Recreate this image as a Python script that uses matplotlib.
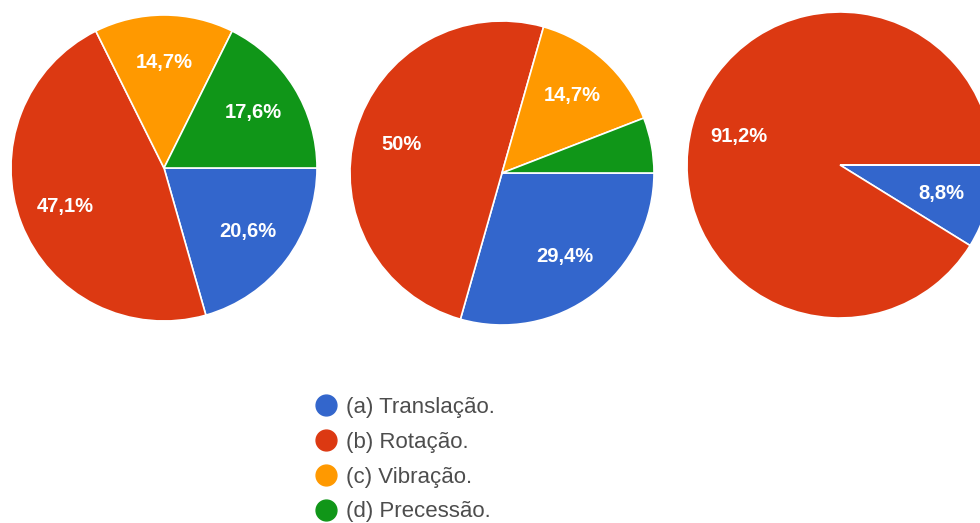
import numpy as np
import matplotlib.pyplot as plt
from matplotlib.lines import Line2D

plt.rcParams['font.family'] = ['Liberation Sans', 'DejaVu Sans']

# answers from 34 students, one pie per question
categorias = ['(a) Translação.', '(b) Rotação.', '(c) Vibração.', '(d) Precessão.']
cores = ['#3366cc', '#dc3912', '#ff9900', '#109618']

q1 = [7, 16, 5, 6]
q2 = [10, 17, 5, 2]
q3 = [3, 31, 0, 0]

W, H = 980, 523
fig = plt.figure(figsize=(W / 100, H / 100), dpi=100)

def pizza(valores, cx, cy, r):
    # axes placed in pixel units, square so the pie stays round
    ax = fig.add_axes([(cx - r) / W, (H - cy - r) / H, 2 * r / W, 2 * r / H])
    total = sum(valores)
    wedges, _ = ax.pie(valores, colors=cores, startangle=0, counterclock=False,
                       radius=1, wedgeprops=dict(edgecolor='white', linewidth=1.2))
    for w, v in zip(wedges, valores):
        frac = v / total
        if frac < 0.07:
            continue
        ang = np.deg2rad((w.theta1 + w.theta2) / 2)
        d = 0.69
        txt = f'{frac * 100:.1f}'.replace('.', ',') + '%'
        txt = txt.replace(',0%', '%')
        ax.text(d * np.cos(ang), d * np.sin(ang), txt, color='white',
                fontsize=14.5, fontweight='bold', ha='center', va='center')
    ax.set_xlim(-1, 1)
    ax.set_ylim(-1, 1)
    ax.axis('off')

pizza(q1, 164, 168, 153)
pizza(q2, 502, 173, 152)
pizza(q3, 840, 165, 153)

handles = [Line2D([], [], marker='o', linestyle='none', markersize=15,
                  markerfacecolor=c, markeredgecolor=c) for c in cores]
fig.legend(handles, categorias, loc='upper left', bbox_to_anchor=(314.6 / W, 1 - 397 / H),
           frameon=False, fontsize=16, labelcolor='#4d4d4d', handletextpad=0.4,
           labelspacing=0.62, handlelength=1.0, borderpad=0, borderaxespad=0)

fig.savefig('out.png', dpi=100, facecolor='white')
